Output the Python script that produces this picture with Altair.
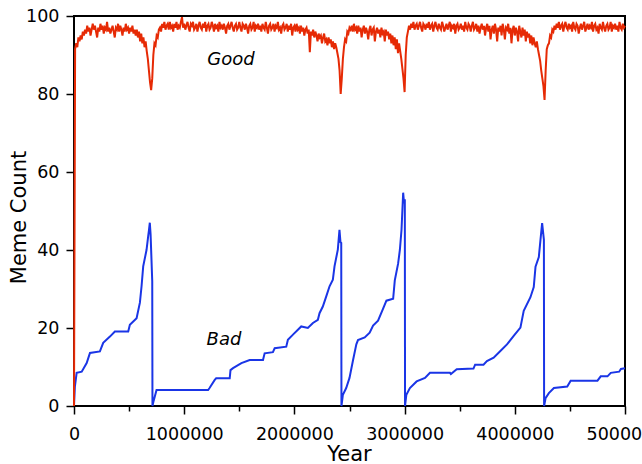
import altair as alt
import pandas as pd

# ---- Bad memes (blue) ----
blue_years = [0, 8000, 24000, 70000, 115000, 145000, 235000, 265000, 326000, 371000,
              492000, 507000, 568000, 598000, 613000, 628000, 658000, 673000, 680000, 688000,
              695000, 710000, 712000, 720000, 749000, 1217000, 1230000, 1277000, 1290000, 1413000,
              1420000, 1443000, 1519000, 1594000, 1715000, 1730000, 1805000, 1821000, 1926000, 1941000,
              1987000, 2062000, 2122000, 2168000, 2213000, 2228000, 2258000, 2289000, 2319000, 2349000,
              2364000, 2394000, 2409000, 2418000, 2425000, 2427000, 2440000, 2470000, 2500000, 2531000,
              2562000, 2577000, 2638000, 2683000, 2714000, 2759000, 2804000, 2835000, 2896000, 2911000,
              2941000, 2957000, 2972000, 2987000, 2995000, 3002000, 3004000, 3016000, 3048000, 3109000,
              3185000, 3230000, 3412000, 3420000, 3473000, 3625000, 3640000, 3716000, 3747000, 3808000,
              3869000, 3929000, 3990000, 4051000, 4081000, 4142000, 4172000, 4188000, 4218000, 4233000,
              4248000, 4264000, 4266000, 4279000, 4309000, 4355000, 4476000, 4507000, 4750000, 4780000,
              4841000, 4871000, 4947000, 4963000, 5000000]
blue_values = [0, 5, 8.5, 8.8, 11, 13.6, 14, 16.2, 17.8, 19.1,
               19.1, 20.8, 22.5, 26.5, 30.7, 35.8, 40, 43.5, 45, 47,
               44, 32, 0, 1, 4.1, 4.1, 4.6, 6.7, 7.1, 7.1,
               9.2, 9.7, 11, 11.8, 11.8, 13.5, 13.8, 14.8, 15.2, 17,
               18.3, 20.4, 20, 21.3, 22.1, 23.8, 25.5, 28.1, 30.7, 32.4,
               35.8, 40.1, 45.2, 42, 41.8, 0, 2.9, 4.6, 7.2, 11.6,
               15.8, 16.9, 17.6, 18.8, 20.6, 21.9, 24.9, 27, 27.5, 32.2,
               36.5, 40, 45.2, 54.7, 52, 53, 0, 2.9, 4.6, 6.3,
               7.2, 8.5, 8.5, 8.2, 9.4, 9.6, 10.6, 10.6, 11.5, 12.4,
               14.1, 15.8, 18, 20.1, 24.4, 27.9, 30.5, 35.7, 38.2, 42.6,
               46.9, 42.6, 0, 2, 3.3, 4.6, 5, 6.5, 6.5, 7.6,
               7.6, 8.5, 8.8, 9.5, 9.7]

# ---- Good memes (red): value at year 0, then one sample every 10000 years ----
red_first_value = 0
red_step = 10000
red_values = [
    91.5, 93.0, 92.0, 94.5, 93.5, 95.0, 94.0, 96.0, 95.0, 96.5,
    95.5, 97.5, 96.0, 97.0, 95.0, 96.5, 98.0, 96.5, 97.5, 96.0,
    94.5, 97.0, 96.0, 98.0, 96.5, 97.5, 95.5, 97.0, 96.5, 98.5,
    96.0, 97.0, 95.5, 96.5, 97.5, 96.0, 94.5, 97.0, 96.5, 98.0,
    96.0, 97.5, 96.5, 95.0, 97.0, 96.0, 98.0, 96.5, 97.0, 95.5,
    97.0, 96.0, 97.5, 95.5, 96.5, 95.0, 96.5, 94.5, 96.0, 93.5,
    95.5, 93.0, 94.5, 92.0, 93.5, 91.0, 89.0, 86.0, 83.0, 81.0,
    84.0, 90.0, 93.0, 92.5, 95.0, 94.5, 96.5, 97.0, 96.0, 98.0,
    97.0, 98.5, 96.5, 97.5, 98.0, 96.5, 98.5, 97.0, 97.5, 96.0,
    98.0, 97.0, 98.5, 96.5, 97.5, 97.0, 98.5, 99.7, 97.0, 98.0,
    96.5, 97.5, 98.5, 97.0, 96.0, 98.0, 97.5, 98.5, 96.5, 97.0,
    98.0, 96.0, 97.5, 98.5, 97.0, 96.5, 98.0, 97.0, 98.5, 96.0,
    97.5, 98.0, 96.5, 97.0, 98.5, 97.5, 96.0, 98.0, 97.0, 97.5,
    96.0, 98.5, 97.0, 97.5, 96.5, 98.0, 97.0, 95.5, 97.5, 98.0,
    96.5, 97.5, 98.5, 97.0, 96.0, 97.5, 98.0, 96.5, 97.0, 98.5,
    97.0, 96.0, 98.0, 97.5, 96.5, 98.0, 97.0, 95.5, 97.5, 98.0,
    96.5, 97.0, 98.5, 96.0, 97.5, 97.0, 98.0, 96.5, 97.5, 96.0,
    98.0, 97.0, 96.5, 98.5, 97.0, 95.5, 97.5, 98.0, 96.5, 97.0,
    98.0, 96.0, 97.5, 97.0, 98.5, 96.5, 97.0, 95.5, 97.5, 98.0,
    96.5, 97.0, 98.0, 96.0, 97.5, 96.5, 98.0, 95.0, 97.0, 97.5,
    96.0, 98.0, 96.5, 97.0, 95.5, 97.5, 96.0, 97.0, 95.0, 96.5,
    97.0, 95.5, 96.5, 90.7, 96.0, 95.0, 96.5, 94.5, 96.0, 95.0,
    93.5, 95.5, 94.5, 95.0, 93.0, 94.5, 95.5, 93.5, 94.0, 92.5,
    94.5, 93.0, 94.0, 92.0, 93.5, 91.5, 93.0, 92.0, 90.5, 89.0,
    86.0, 80.0, 84.0, 89.0, 92.0, 94.0, 93.5, 96.0, 95.5, 97.0,
    96.5, 97.5, 96.0, 98.0, 96.5, 97.0, 95.5, 97.5, 96.0, 97.0,
    94.5, 96.5, 97.5, 95.5, 97.0, 96.0, 94.0, 96.5, 97.5, 95.0,
    96.5, 97.0, 93.5, 96.0, 97.0, 95.5, 96.5, 94.5, 97.0, 95.5,
    96.0, 93.5, 96.5, 95.0, 96.0, 94.0, 95.5, 93.0, 95.0, 92.5,
    94.5, 91.5, 94.0, 90.5, 93.0, 91.0, 89.0, 86.5, 84.0, 80.5,
    90.0, 94.5, 96.0, 97.5, 96.5, 98.0, 97.0, 98.5, 96.5, 97.5,
    98.0, 96.5, 97.5, 98.5, 97.0, 96.0, 98.0, 97.5, 96.5, 98.0,
    97.0, 98.5, 96.5, 97.5, 98.0, 96.0, 97.5, 98.5, 97.0, 96.5,
    98.0, 97.0, 96.5, 98.5, 97.5, 96.0, 97.0, 98.0, 96.5, 97.5,
    98.5, 96.0, 97.5, 97.0, 98.0, 95.5, 97.5, 98.0, 96.5, 97.0,
    98.0, 96.5, 97.5, 96.0, 98.5, 97.0, 96.5, 98.0, 97.5, 96.0,
    97.5, 98.5, 96.5, 97.0, 98.0, 96.0, 97.5, 95.5, 97.0, 98.0,
    96.5, 97.5, 95.0, 97.0, 98.0, 96.0, 97.5, 94.0, 96.5, 97.5,
    95.5, 98.0, 96.5, 93.5, 97.0, 96.0, 97.5, 95.0, 98.0, 96.5,
    94.0, 97.0, 96.5, 98.0, 95.5, 97.0, 93.0, 96.5, 97.5, 95.0,
    97.0, 96.0, 93.5, 97.5, 96.0, 94.5, 97.0, 95.0, 96.5, 93.5,
    96.0, 94.5, 95.5, 93.0, 95.0, 92.5, 94.5, 93.0, 92.0, 93.5,
    91.5, 90.0, 88.5, 86.0, 84.0, 82.0, 78.5, 86.0, 91.5, 92.5,
    93.0, 95.0, 94.5, 96.5, 96.0, 97.5, 96.5, 98.0, 97.0, 98.5,
    96.5, 97.5, 98.0, 96.0, 97.5, 98.5, 97.0, 96.5, 98.0, 97.0,
    97.5, 96.0, 98.5, 97.0, 96.5, 98.0, 97.5, 95.5, 97.0, 98.0,
    96.5, 97.5, 98.5, 96.0, 97.0, 98.0, 96.5, 97.5, 97.0, 98.5,
    96.0, 97.5, 98.0, 96.5, 97.0, 95.5, 98.0, 97.0, 96.5, 98.5,
    97.0, 96.0, 97.5, 98.0, 96.5, 97.0, 98.5, 96.0, 97.5, 97.0,
    98.0, 96.5, 97.5, 96.0, 98.5, 97.0, 96.5, 98.0, 97.0, 97.5,
]
red_years = [0] + [red_step * k for k in range(1, len(red_values) + 1)]
red_all = [red_first_value] + red_values

# ---- annotations ----
ann_labels = ["Good", "Bad"]
ann_years = [1425000, 1361000]
ann_values = [88.7, 16.9]

blue_df = pd.DataFrame({"year": blue_years, "count": blue_values})
red_df = pd.DataFrame({"year": red_years, "count": red_all})
ann_df = pd.DataFrame({"year": ann_years, "count": ann_values, "label": ann_labels})

FONT = "DejaVu Sans"

x_scale = alt.Scale(domain=[0, 5000000], nice=False, zero=False)
y_scale = alt.Scale(domain=[0, 100], nice=False)

x_axis = alt.Axis(
    title="Year",
    values=list(range(0, 5000001, 500000)),
    format="d",
    labelExpr="datum.value % 1000000 === 0 ? datum.label : ''",
    tickSize={"condition": {"test": "datum.value % 1000000 === 0", "value": 8}, "value": 5},
    tickColor="black",
    tickWidth=1.5,
    domain=False,
    grid=False,
    labelFont=FONT,
    labelFontSize=17.5,
    labelColor="black",
    labelPadding=11,
    labelFlush=False,
    labelOverlap=False,
    labelBound=False,
    titleFont=FONT,
    titleFontSize=21,
    titleFontWeight="normal",
    titleColor="black",
    titleX=275,
    titleY=54,
    titleAlign="center",
    titleBaseline="alphabetic",
)
y_axis = alt.Axis(
    title="Meme Count",
    values=list(range(0, 101, 10)),
    labelExpr="datum.value % 20 === 0 ? datum.label : ''",
    tickSize={"condition": {"test": "datum.value % 20 === 0", "value": 8}, "value": 4},
    tickColor="black",
    tickWidth=1.5,
    domain=False,
    grid=False,
    labelFont=FONT,
    labelFontSize=17.5,
    labelColor="black",
    labelPadding=7,
    labelOverlap=False,
    labelBound=False,
    labelFlush=False,
    titleFont=FONT,
    titleFontSize=21,
    titleFontWeight="normal",
    titleColor="black",
    titleX=-49,
    titleY=201,
    titleAngle=270,
    titleAlign="center",
    titleBaseline="alphabetic",
)

blue = alt.Chart(blue_df).mark_line(color="#1a35e6", strokeWidth=2).encode(
    x=alt.X("year:Q", scale=x_scale, axis=x_axis),
    y=alt.Y("count:Q", scale=y_scale, axis=y_axis),
)
red = alt.Chart(red_df).mark_line(color="#e62a05", strokeWidth=2).encode(
    x=alt.X("year:Q", scale=x_scale),
    y=alt.Y("count:Q", scale=y_scale),
)
text = alt.Chart(ann_df).mark_text(
    font=FONT, fontSize=18, fontStyle="italic", color="black", align="center", baseline="middle"
).encode(
    x=alt.X("year:Q", scale=x_scale),
    y=alt.Y("count:Q", scale=y_scale),
    text="label:N",
)

chart = (
    alt.layer(blue, red, text)
    .properties(
        width=551,
        height=390,
        autosize=alt.AutoSizeParams(type="none"),
        padding={"left": 74, "top": 16, "right": 17, "bottom": 58},
        background="white",
    )
    .configure_view(stroke="black", strokeWidth=2)
)

chart.save("out.html", embed_options={"renderer": "svg", "actions": False})
